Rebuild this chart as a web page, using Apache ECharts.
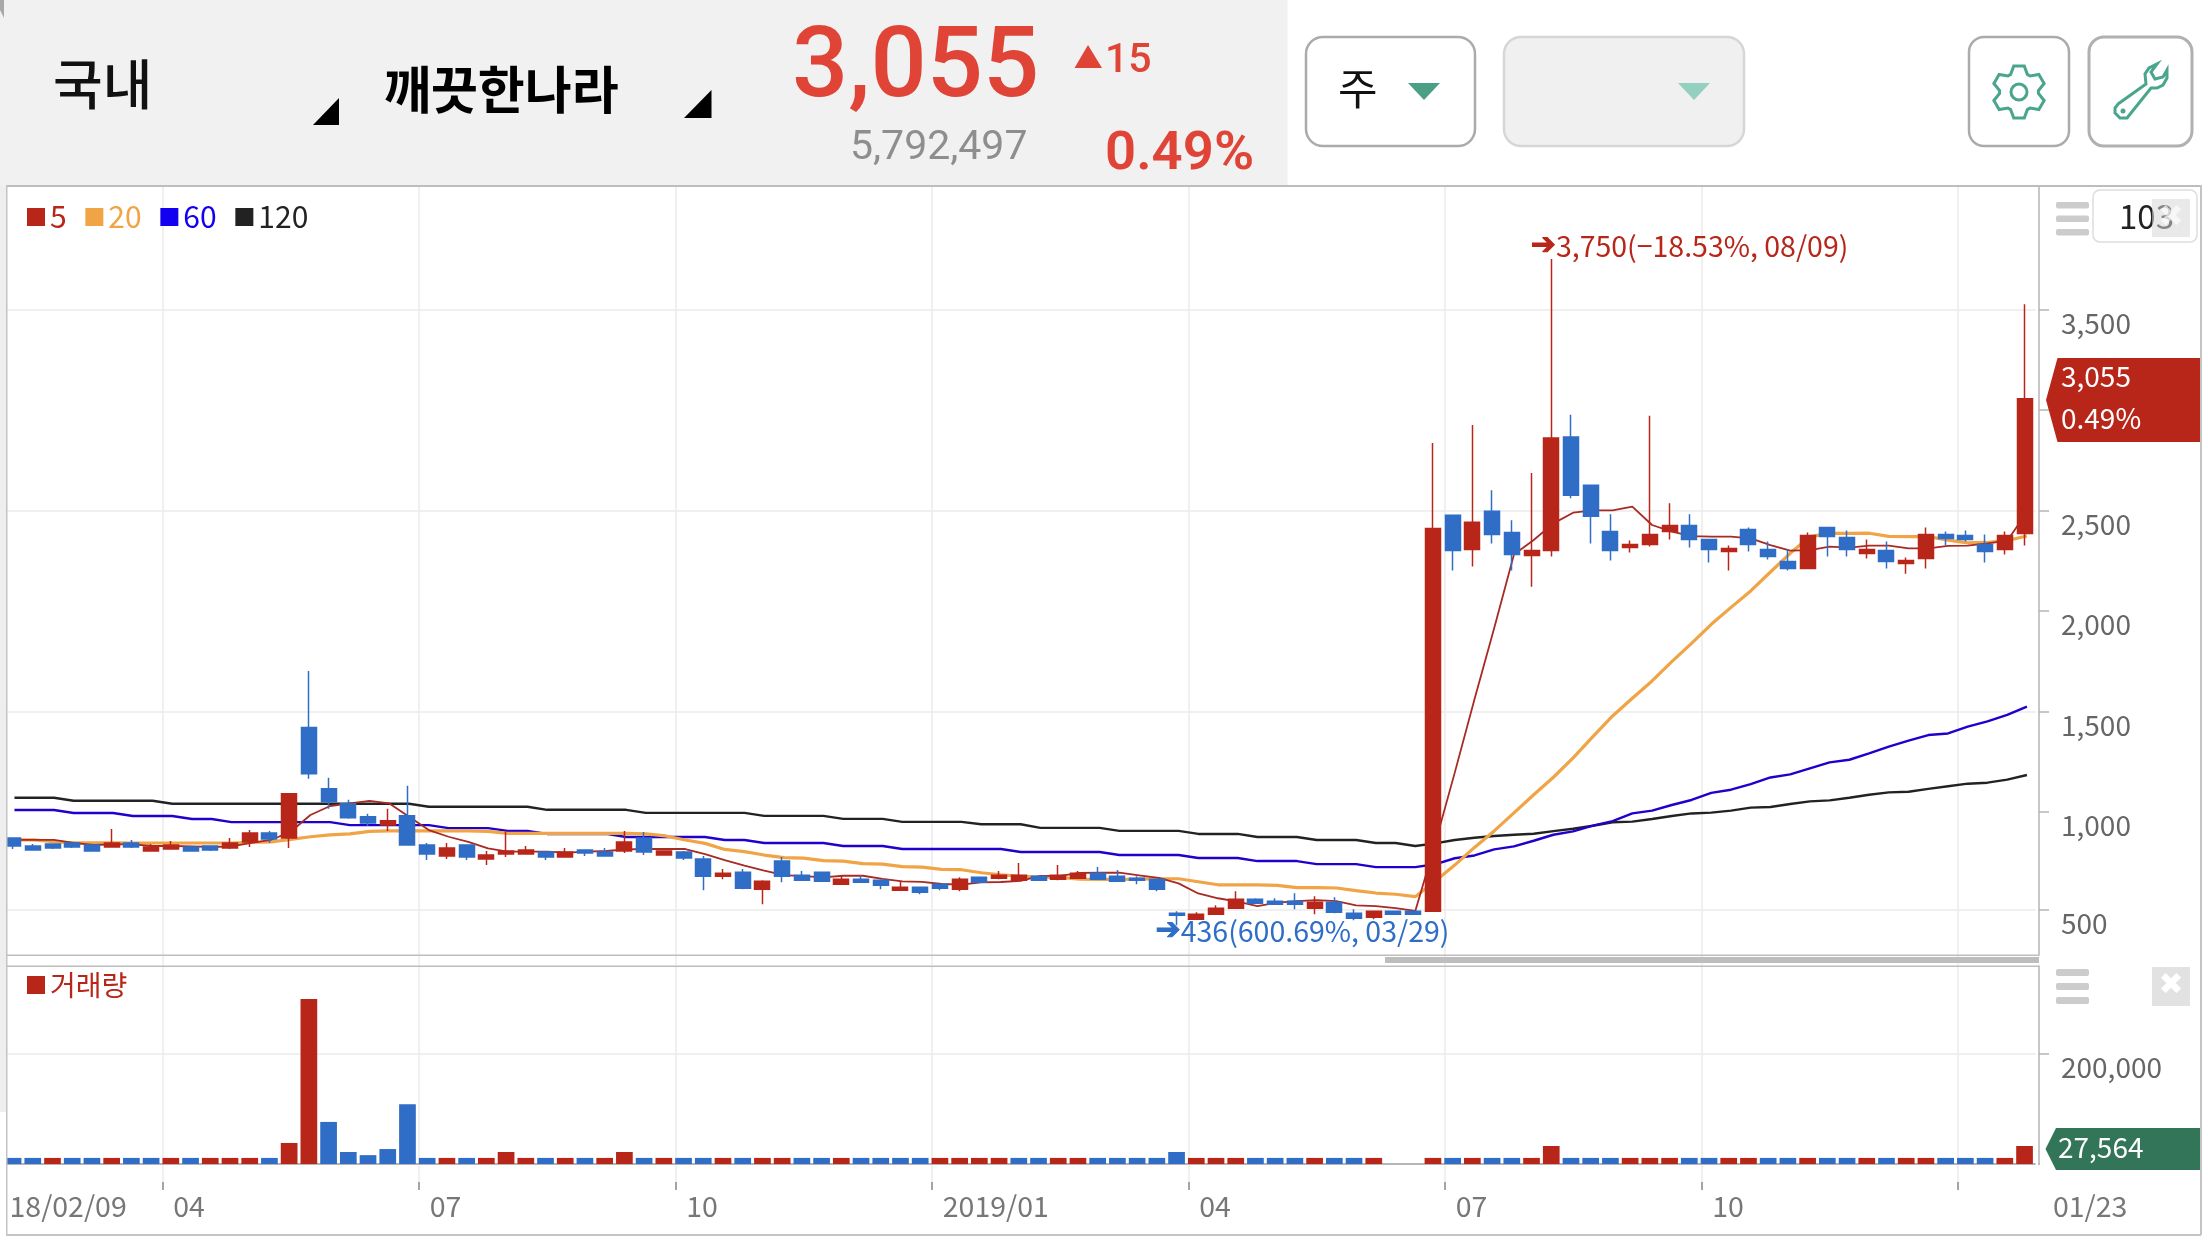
<!DOCTYPE html>
<html>
<head>
<meta charset="utf-8">
<title>깨끗한나라</title>
<style>
  html, body { margin: 0; padding: 0; background: #fff; }
  #chart { width: 2208px; height: 1242px; }
</style>
<script src="https://cdn.jsdelivr.net/npm/echarts@6/dist/echarts.min.js"></script>
</head>
<body>
<div id="chart"></div>
<script>
const FONT = '"Noto Sans CJK KR", "Noto Sans", sans-serif';
const RED = '#b8261a';
const BLUE = '#2f6dc6';
const ORANGE = '#f0a445';
const NAVY = '#2000cc';
const DARK = '#222222';

// weekly candles: open, close, low, high
const candles = [
  [870,830,815,870],[830,810,810,840],[840,820,815,840],[845,825,820,850],[835,805,805,835],
  [825,845,825,915],[845,825,820,860],[805,825,805,840],[815,835,815,855],[825,805,805,830],
  [830,810,805,830],[820,845,815,870],[850,895,825,910],[895,865,845,905],[870,1090,820,1090],
  [1420,1190,1165,1700],[1115,1050,1015,1170],[1040,970,965,1060],[975,945,930,990],[935,955,905,1015],
  [980,835,835,1130],[835,790,760,845],[780,820,765,845],[835,775,760,835],[765,785,735,805],
  [790,805,775,905],[790,810,790,830],[800,775,760,800],[775,800,775,820],[810,795,780,810],
  [800,780,780,820],[805,850,795,905],[870,800,785,900],[785,805,785,805],[800,770,760,805],
  [765,680,610,780],[680,695,665,715],[700,620,615,715],[615,655,540,660],[755,680,650,775],
  [685,660,660,705],[700,655,655,700],[640,665,640,685],[665,650,650,685],[660,635,615,665],
  [610,625,610,655],[625,600,590,625],[640,620,610,640],[615,665,605,675],[675,650,650,675],
  [670,685,665,705],[660,685,660,745],[680,660,660,680],[665,685,660,735],[670,695,670,705],
  [695,665,665,725],[680,655,655,710],[670,660,640,680],[665,615,605,665],[495,485,436,505],
  [465,490,465,500],[490,520,490,535],[520,565,520,605],[565,545,545,570],[555,540,540,570],
  [555,540,515,595],[520,550,490,580],[550,500,495,575],[495,470,460,515],[475,505,465,505],
  [505,490,490,505],[505,490,490,505],[505,2410,505,2835],[2475,2300,2200,2475],[2305,2440,2220,2925],
  [2495,2380,2335,2600],[2390,2280,2200,2450],[2275,2300,2120,2685],[2300,2860,2270,3750],[2865,2575,2560,2975],
  [2625,2470,2335,2625],[2395,2300,2250,2480],[2315,2330,2290,2350],[2330,2380,2320,2970],[2395,2425,2355,2535],
  [2425,2355,2315,2480],[2355,2305,2240,2355],[2295,2310,2200,2325],[2405,2330,2295,2415],[2305,2270,2255,2345],
  [2245,2210,2200,2305],[2210,2375,2210,2390],[2415,2370,2270,2415],[2365,2305,2270,2400],[2285,2305,2260,2355],
  [2300,2245,2210,2345],[2235,2250,2185,2265],[2260,2380,2210,2415],[2380,2360,2325,2395],[2375,2355,2345,2400],
  [2330,2295,2240,2380],[2305,2375,2280,2395],[2385,3055,2325,3525]
];

const ma5 = [
  860,860,860,846,835,838,838,830,830,828,825,828,845,860,901,984,1029,1042,1055,1042,
  976,909,876,851,818,802,802,802,797,802,805,813,815,815,815,790,760,732,707,685,
  680,674,682,682,666,654,652,641,638,649,651,656,681,681,696,697,697,684,671,644,
  594,570,553,531,548,556,561,556,535,531,521,507,840,1195,1560,1915,2280,2352,2435,2488,
  2500,2500,2518,2427,2394,2372,2369,2369,2360,2327,2299,2302,2319,2314,2324,2324,2311,2311,2323,2324,
  2336,2349,2490
];
const ma20 = [
  860,860,851,846,846,846,845,845,845,845,845,845,848,850,863,876,885,890,903,905,
  905,905,905,905,903,893,893,893,893,893,893,893,890,880,860,843,813,802,785,772,
  770,757,755,742,740,727,725,714,712,697,687,679,675,674,665,664,664,665,667,667,
  652,637,637,637,634,623,623,621,608,596,590,578,655,735,823,905,995,1085,1172,1268,
  1374,1477,1565,1651,1747,1838,1933,2017,2099,2193,2286,2369,2385,2385,2386,2370,2369,2369,2352,2338,
  2340,2350,2372
];
const ma60 = [
  1009,1009,1009,994,994,994,979,979,979,964,964,949,949,949,949,949,949,934,934,934,
  934,934,919,919,919,905,905,890,890,890,890,875,875,875,875,875,860,860,845,845,
  845,845,830,830,830,815,815,815,815,815,815,800,800,800,800,800,785,785,785,785,
  770,770,770,755,755,755,740,740,740,725,725,725,739,769,783,813,828,856,886,903,
  931,954,992,1006,1034,1059,1094,1110,1138,1171,1186,1216,1246,1259,1291,1324,1354,1382,1390,1424,
  1450,1482,1523
];
const ma120 = [
  1070,1070,1070,1055,1055,1055,1055,1055,1040,1040,1040,1040,1040,1040,1040,1040,1040,1040,1040,1040,
  1040,1025,1025,1025,1025,1025,1025,1010,1010,1010,1010,1010,995,995,995,995,995,995,980,980,
  980,980,965,965,965,950,950,950,950,938,938,938,920,920,920,920,905,905,905,905,
  890,890,890,875,875,875,860,860,860,845,845,830,843,860,871,880,886,891,904,916,
  931,948,951,964,979,992,996,1006,1021,1024,1039,1052,1057,1070,1085,1097,1100,1114,1127,1140,
  1145,1160,1183
];

const volumes = [
  11000,11000,11000,11000,11000,11000,11000,11000,11000,11000,
  11000,11000,11000,11000,38000,298000,76000,21700,16000,27000,
  108000,11000,11000,11000,11000,21700,11000,11000,11000,11000,
  11000,21700,11000,11000,11000,11000,11000,11000,11000,11000,
  11000,11000,11000,11000,11000,11000,11000,11000,11000,11000,
  11000,11000,11000,11000,11000,11000,11000,11000,11000,21700,
  11000,11000,11000,11000,11000,11000,11000,11000,11000,11000,
  0,0,11000,11000,11000,11000,11000,11000,32500,11000,
  11000,11000,11000,11000,11000,11000,11000,11000,11000,11000,
  11000,11000,11000,11000,11000,11000,11000,11000,11000,11000,
  11000,11000,32500
];
// 1 = up week (red), 0 = down week (blue)
const volumeUp = [
  0,0,1,0,0,1,0,0,1,0, 1,1,1,0,1,1,0,0,0,0,
  0,0,1,0,1,1,1,0,1,0, 1,1,0,1,0,0,1,0,1,1,
  0,0,1,0,0,0,0,1,1,1, 1,0,0,1,1,0,0,0,0,0,
  1,1,1,0,0,0,1,0,0,1, 0,0,1,0,1,0,0,1,1,0,
  0,0,1,1,1,0,0,1,1,0, 0,1,0,0,1,0,1,1,0,0,
  0,1,1
];

const categories = candles.map((c, i) => String(i));
const monthTicks = [8, 21, 34, 47, 60, 73, 86, 99];
const xLabels = { 8: '04', 21: '07', 34: '10', 47: '2019/01', 60: '04', 73: '07', 86: '10', 102: '01/23' };
const firstLabel = '18/02/09';
// the lowest gridline and label sit about 3px above a true 500 in the source picture
const tick500 = 513;
const priceLabels = [tick500, 1000, 1500, 2000, 2500, 3500];
const priceTicks = [tick500, 1000, 1500, 2000, 2500, 3000, 3500];
const priceGrid = [tick500, 1500, 2500, 3500];

const gridLine = { show: true, lineStyle: { color: '#ebebeb', width: 1.5 } };
const isMonth = i => monthTicks.includes(i);

// page chrome around the plot, all in page pixels
function rect(x, y, w, h, fill, stroke, r, lw) {
  return { type: 'rect', z: 100, shape: { x, y, width: w, height: h, r: r || 0 },
    style: { fill: fill || 'transparent', stroke: stroke || 'transparent', lineWidth: lw || 0 }, silent: true };
}
function txt(x, y, text, size, color, extra) {
  return { type: 'text', z: 101, x, y, silent: true,
    style: Object.assign({ text, fontSize: size, fill: color, fontFamily: FONT, verticalAlign: 'middle' }, extra || {}) };
}
function tri(pts, fill) {
  return { type: 'polygon', z: 101, shape: { points: pts }, style: { fill }, silent: true };
}
function gearPoints(cx, cy) {
  const pts = [];
  const teeth = 6;
  for (let t = 0; t < teeth; t++) {
    const a = -Math.PI / 2 + t * 2 * Math.PI / teeth;
    const s = Math.PI / 11;
    [[19.5, a - s * 1.55], [26.5, a - s * 0.7], [26.5, a + s * 0.7], [19.5, a + s * 1.55]].forEach(p => {
      pts.push([cx + p[0] * Math.cos(p[1]), cy + p[0] * Math.sin(p[1])]);
    });
  }
  return pts;
}
const GREEN = '#4aa58d';
const wrench = [
  [2118, 104], [2146, 84], [2145, 74], [2149, 68], [2157, 64], [2151, 72], [2155, 79], [2163, 77], [2167, 70],
  [2167, 78], [2163, 85], [2157, 88], [2151, 88], [2131, 113], [2127, 118], [2120, 118], [2115, 113], [2115, 108]
];
const chrome = [
  // hides the edge line the band axis adds at its right end
  Object.assign(rect(2035.6, 187, 2.4, 1004, '#ffffff'), { z: 1 }),
  rect(0, 0, 6, 1112, '#eeeeee'),
  rect(0, 1112, 6, 130, '#ffffff'),
  rect(0, 0, 1287.5, 186, '#f1f1f1'),
  tri([[0, 0], [4, 0], [4, 18], [0, 10]], '#a8a8a8'),
  // frame
  rect(6, 185, 2195, 2, '#bdbdbd'),
  rect(6, 185, 1.5, 1050, '#c4c4c4'),
  rect(2200, 185, 2, 1050, '#c4c4c4'),
  rect(6, 1234, 2195, 2, '#c4c4c4'),
  rect(7, 954.5, 2032, 1.5, '#bdbdbd'),
  rect(7, 965.5, 2032, 1.5, '#bdbdbd'),
  rect(1385, 957, 654, 6, '#bdbdbd'),
  // header
  txt(53, 84, '국내', 54, '#111', { fontWeight: 500 }),
  tri([[313, 125], [339, 125], [339, 98]], '#000'),
  txt(384, 90, '깨끗한나라', 51, '#000', { fontWeight: 700 }),
  tri([[684, 118], [711.5, 118], [711.5, 90]], '#000'),
  txt(792, 71, '3,055', 99, '#e04436', { fontFamily: 'Roboto', fontWeight: 500 }),
  tri([[1074.5, 68], [1102, 68], [1088, 45]], '#e04436'),
  txt(1105, 62, '15', 41, '#e04436', { fontFamily: 'Roboto', fontWeight: 500 }),
  txt(850, 149, '5,792,497', 41, '#8e8e8e', { fontFamily: 'Roboto' }),
  txt(1105, 155, '0.49%', 54.5, '#e04436', { fontFamily: 'Roboto', fontWeight: 600 }),
  // buttons
  rect(1306, 37, 169, 109, '#fff', '#ababab', 17, 2.5),
  txt(1338, 89, '주', 43, '#111'),
  tri([[1408, 83], [1440, 83], [1424, 100]], '#4a9f84'),
  rect(1504, 37, 240, 109, '#f0f0f0', '#d6d6d6', 17, 2.5),
  tri([[1678, 83], [1710, 83], [1694, 100]], '#94d0bf'),
  rect(1969, 37, 100, 109, '#fff', '#ababab', 15, 2.5),
  { type: 'polygon', z: 101, silent: true, shape: { points: gearPoints(2019, 92) }, style: { fill: 'none', stroke: GREEN, lineWidth: 3 } },
  { type: 'circle', z: 101, silent: true, shape: { cx: 2019, cy: 92, r: 8 }, style: { fill: 'none', stroke: GREEN, lineWidth: 3 } },
  rect(2089, 37, 103, 109, '#fff', '#b0b0b0', 15, 3),
  { type: 'polygon', z: 101, silent: true, shape: { points: wrench }, style: { fill: 'none', stroke: GREEN, lineWidth: 3 } },
  { type: 'circle', z: 101, silent: true, shape: { cx: 2123, cy: 111, r: 2.5 }, style: { fill: GREEN } },
  // panel controls
  rect(2056, 202, 33, 6.5, '#cccccc', null, 2),
  rect(2056, 215.5, 33, 6.5, '#cccccc', null, 2),
  rect(2056, 229, 33, 6.5, '#cccccc', null, 2),
  rect(2093, 190, 104, 52, '#fff', '#dddddd', 7, 1.5),
  txt(2119, 216, '103', 33, '#222'),
  Object.assign(rect(2152, 199, 38, 38, '#dcdcdc'), { z: 102, style: { fill: 'rgba(215,215,215,0.55)' } }),
  Object.assign(txt(2171, 218, '✖', 30, 'rgba(255,255,255,0.65)', { align: 'center', fontFamily: 'DejaVu Sans' }), { z: 103 }),
  rect(2056, 969, 33, 7, '#cccccc', null, 2),
  rect(2056, 983, 33, 7, '#cccccc', null, 2),
  rect(2056, 997, 33, 7, '#cccccc', null, 2),
  rect(2152, 967, 38, 39, '#e2e2e2'),
  txt(2171, 986, '✖', 30, '#fff', { align: 'center', fontFamily: 'DejaVu Sans' }),
  // last price tags
  tri([[2046, 400], [2057.5, 358], [2200, 358], [2200, 442], [2057.5, 442]], RED),
  txt(2061, 376, '3,055', 28, '#fff'),
  txt(2061, 418, '0.49%', 28, '#fff'),
  tri([[2045.5, 1149], [2056, 1128], [2200, 1128], [2200, 1170], [2056, 1170]], '#337558'),
  txt(2058, 1147, '27,564', 28, '#fff'),
  txt(9.5, 1206, firstLabel, 28.5, '#777')
];

function maSeries(name, data, color, width) {
  return { name, type: 'line', data, xAxisIndex: 4, yAxisIndex: 5, symbol: 'none', z: 2, silent: true,
    itemStyle: { color }, lineStyle: { color, width } };
}
function legendItem(name, color) {
  return { name, icon: 'rect', itemStyle: { color }, textStyle: { color } };
}
function arrowStyle(color) {
  return { fontFamily: 'DejaVu Sans', fontSize: 30, color, textBorderColor: color, textBorderWidth: 1 };
}
const priceText = v => (v === tick500 ? 500 : v).toLocaleString('en-US');

const chart = echarts.init(document.getElementById('chart'));
chart.setOption({
  animation: false,
  backgroundColor: '#ffffff',
  textStyle: { fontFamily: FONT },
  graphic: { elements: chrome },
  legend: [
    { left: 27, top: 202, itemWidth: 18, itemHeight: 18, itemGap: 18.7, padding: 0,
      textStyle: { fontSize: 30, fontFamily: FONT },
      data: [legendItem('5', RED), legendItem('20', ORANGE), legendItem('60', '#1400f0'), legendItem('120', DARK)] },
    { left: 27, top: 971, itemWidth: 18, itemHeight: 18, padding: 0,
      textStyle: { fontSize: 28, fontFamily: FONT },
      data: [legendItem('거래량', RED)] }
  ],
  grid: [
    { left: 3.2, right: 173.6, top: 187, height: 779 },
    { left: 3.2, right: 173.6, top: 966, height: 216 },
    { left: 7, right: 169, top: 187, height: 768 },
    { left: 7, right: 169, top: 966, height: 198 },
    { left: 4.6, right: 171.2, top: 187, height: 779 },
    { left: 4.6, right: 171.2, top: 966, height: 216 }
  ],
  xAxis: [
    { type: 'category', gridIndex: 0, data: categories, show: false },
    { type: 'category', gridIndex: 1, data: categories, show: false },
    { type: 'category', gridIndex: 2, data: [''], show: false },
    { type: 'category', gridIndex: 3, data: [''],
      axisLine: { show: true, onZero: false, lineStyle: { color: '#b5b5b5', width: 2 } },
      axisTick: { show: false }, axisLabel: { show: false }, splitLine: { show: false } },
    { type: 'category', gridIndex: 4, data: categories, boundaryGap: true,
      axisLine: { show: false }, axisTick: { show: false }, axisLabel: { show: false },
      splitLine: Object.assign({ interval: i => isMonth(i) }, gridLine) },
    { type: 'category', gridIndex: 5, data: categories, boundaryGap: true,
      axisLine: { show: false, onZero: false },
      axisTick: { show: true, length: 8, interval: i => isMonth(i), lineStyle: { color: '#888', width: 1.5 } },
      axisLabel: { show: true, align: 'left', margin: 10, color: '#777', fontSize: 28.5, fontFamily: FONT,
        interval: i => xLabels[i] !== undefined,
        formatter: (v, i) => i === 102 ? '{end|' + xLabels[i] + '}' : '{m|' + xLabels[i] + '}',
        rich: {
          m: { padding: [0, 0, 0, 1], fontSize: 28.5, color: '#777', fontFamily: FONT },
          end: { padding: [0, 0, 0, 26], fontSize: 28.5, color: '#777', fontFamily: FONT }
        } },
      splitLine: Object.assign({ interval: i => isMonth(i) }, gridLine) }
  ],
  yAxis: [
    { type: 'value', gridIndex: 0, min: 233, max: 4108.4, show: false },
    { type: 'value', gridIndex: 1, min: -32520, max: 357700, show: false },
    { type: 'value', gridIndex: 2, position: 'right', min: 287.6, max: 4108.4,
      axisLine: { show: true, lineStyle: { color: '#b5b5b5', width: 1.5 } },
      axisTick: { show: true, length: 10, customValues: priceTicks, lineStyle: { color: '#b5b5b5', width: 1.5 } },
      axisLabel: { show: true, customValues: priceLabels, margin: 22, color: '#666', fontSize: 28, fontFamily: FONT,
        verticalAlign: 'top', padding: [0, 0, 0, 0], formatter: priceText },
      splitLine: { show: false } },
    { type: 'value', gridIndex: 2, position: 'right', min: 287.6, max: 4108.4,
      axisLine: { show: false }, axisLabel: { show: false },
      axisTick: { show: false, customValues: priceGrid },
      splitLine: gridLine },
    { type: 'value', gridIndex: 3, position: 'right', min: 0, max: 357700,
      axisLine: { show: true, lineStyle: { color: '#b5b5b5', width: 1.5 } },
      axisTick: { show: true, length: 10, customValues: [200000], lineStyle: { color: '#b5b5b5', width: 1.5 } },
      axisLabel: { show: true, customValues: [200000], margin: 22, color: '#666', fontSize: 28, fontFamily: FONT,
        verticalAlign: 'top', padding: [0, 0, 0, 0], formatter: v => v.toLocaleString('en-US') },
      splitLine: gridLine },
    { type: 'value', gridIndex: 4, min: 233, max: 4108.4, show: false },
    { type: 'value', gridIndex: 5, min: 0, max: 100, show: false }
  ],
  series: [
    // frame axes need a series to lay out against
    { type: 'line', xAxisIndex: 2, yAxisIndex: 2, data: [], silent: true },
    { type: 'line', xAxisIndex: 2, yAxisIndex: 3, data: [], silent: true },
    { type: 'line', xAxisIndex: 3, yAxisIndex: 4, data: [], silent: true },
    { type: 'line', xAxisIndex: 5, yAxisIndex: 6, data: [], silent: true },
    maSeries('120', ma120, DARK, 2.4),
    maSeries('60', ma60, NAVY, 2.4),
    maSeries('20', ma20, ORANGE, 3.2),
    maSeries('5', ma5, '#a82a22', 1.8),
    {
      name: 'price', type: 'candlestick', xAxisIndex: 0, yAxisIndex: 0, z: 3, silent: true,
      data: candles, barWidth: 15.5,
      itemStyle: { color: RED, color0: BLUE, borderColor: RED, borderColor0: BLUE, borderWidth: 1.5 },
      markPoint: {
        silent: true, symbol: 'circle', symbolSize: 1, itemStyle: { color: 'transparent' },
        data: [
          { coord: [categories[78], 3750], label: { show: true, position: 'right', distance: 0, offset: [-21, -12.5],
            formatter: '{a|➔}{t|3,750(−18.53%, 08/09)}',
            rich: { a: arrowStyle(RED), t: { fontFamily: FONT, fontSize: 28.5, color: RED } } } },
          { coord: [categories[59], 436], label: { show: true, position: 'right', distance: 0, offset: [-21.5, 6],
            formatter: '{a|➔}{t|436(600.69%, 03/29)}',
            rich: { a: arrowStyle(BLUE), t: { fontFamily: FONT, fontSize: 28.5, color: BLUE } } } }
        ]
      }
    },
    {
      name: '거래량', type: 'bar', xAxisIndex: 1, yAxisIndex: 1, barWidth: 16.7, silent: true,
      itemStyle: { color: RED },
      data: volumes.map((v, i) => ({ value: v, itemStyle: { color: volumeUp[i] ? RED : BLUE } }))
    }
  ]
});
</script>
</body>
</html>
